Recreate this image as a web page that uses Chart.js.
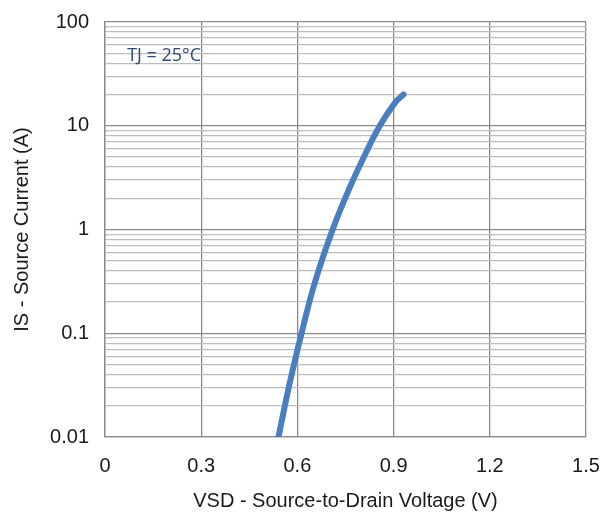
<!DOCTYPE html>
<html>
<head>
<meta charset="utf-8">
<script src="https://cdn.jsdelivr.net/npm/chart.js@4.4.1/dist/chart.umd.min.js"></script>
<style>
  html, body { margin: 0; padding: 0; background: #fff; }
  #wrap { width: 604px; height: 513px; }
</style>
</head>
<body>
<div id="wrap"><canvas id="vsd-chart" width="604" height="513"></canvas></div>
<script>
  // values
  var vsd = [0.541, 0.576, 0.613, 0.654, 0.710, 0.764, 0.810, 0.857, 0.906, 0.931];
  var isCurrent = [0.01, 0.033, 0.1, 0.305, 1, 2.57, 5.2, 10, 16.9, 20];
  var xTicks = [0, 0.3, 0.6, 0.9, 1.2, 1.5];
  var yDecades = [0.01, 0.1, 1, 10, 100];
  var noteText = "TJ = 25°C";

  var LINE = "#4a7ebf";
  var MAJOR = "#8a8a8a";
  var MINOR = "#bdbdbd";
  var TEXT = "#1a1a1a";
  var FONT = "'Liberation Sans', Arial, sans-serif";

  function isDecade(v) {
    return yDecades.some(function (d) { return Math.abs(d - v) < d * 1e-6; });
  }

  var notePlugin = {
    id: "note",
    afterDraw: function (chart) {
      var ctx = chart.ctx;
      var x = chart.scales.x.getPixelForValue(0.069);
      var y = chart.scales.y.getPixelForValue(47);
      ctx.save();
      ctx.font = "18px 'Open Sans', sans-serif";
      ctx.fillStyle = "#2f4a70";
      ctx.textBaseline = "middle";
      ctx.fillText(noteText, x, y);
      ctx.restore();
    }
  };

  new Chart(document.getElementById("vsd-chart"), {
    type: "line",
    data: {
      datasets: [{
        data: vsd.map(function (v, i) { return { x: v, y: isCurrent[i] }; }),
        borderColor: LINE,
        borderWidth: 6,
        borderCapStyle: "round",
        pointRadius: 0,
        tension: 0.4,
        fill: false
      }]
    },
    options: {
      responsive: false,
      animation: false,
      layout: { padding: { top: 22, right: 18, left: 0, bottom: 0 } },
      plugins: { legend: { display: false }, tooltip: { enabled: false } },
      scales: {
        x: {
          type: "linear",
          min: 0,
          max: 1.5,
          afterBuildTicks: function (s) {
            s.ticks = xTicks.map(function (v) { return { value: v }; });
          },
          afterFit: function (s) {
            s.height = 76;
            s.paddingLeft = 0;
            s.paddingRight = 0;
          },
          ticks: {
            padding: 17,
            color: TEXT,
            font: { family: FONT, size: 20 },
            callback: function (v) { return v === 0 ? "0" : v.toFixed(1); }
          },
          grid: { color: MAJOR, lineWidth: 1.3, drawTicks: false },
          border: { color: MAJOR, width: 1.3 },
          title: {
            display: true,
            text: "VSD - Source-to-Drain Voltage (V)",
            color: TEXT,
            padding: { top: 0, bottom: 0 },
            font: { family: FONT, size: 20 }
          }
        },
        y: {
          type: "logarithmic",
          min: 0.01,
          max: 100,
          afterBuildTicks: function (s) {
            var t = [];
            for (var i = 0; i < yDecades.length; i++) {
              var d = yDecades[i];
              t.push({ value: d, major: true });
              if (i < yDecades.length - 1) {
                for (var m = 2; m <= 9; m++) t.push({ value: d * m });
              }
            }
            s.ticks = t;
          },
          afterFit: function (s) {
            s.width = 105;
            s.paddingTop = 0;
            s.paddingBottom = 0;
          },
          ticks: {
            padding: 16,
            autoSkip: false,
            color: TEXT,
            font: { family: FONT, size: 20 },
            callback: function (v) {
              if (!isDecade(v)) return "";
              return v < 1 ? String(+v.toFixed(2)) : String(Math.round(v));
            }
          },
          grid: {
            drawTicks: false,
            color: function (c) { return isDecade(c.tick.value) ? MAJOR : MINOR; },
            lineWidth: function (c) { return isDecade(c.tick.value) ? 1.3 : 1.2; }
          },
          border: { color: MAJOR, width: 1.3 },
          title: {
            display: true,
            text: "IS - Source Current (A)",
            color: TEXT,
            padding: { top: 10, bottom: 0 },
            font: { family: FONT, size: 20 }
          }
        }
      }
    },
    plugins: [notePlugin]
  });
</script>
</body>
</html>
